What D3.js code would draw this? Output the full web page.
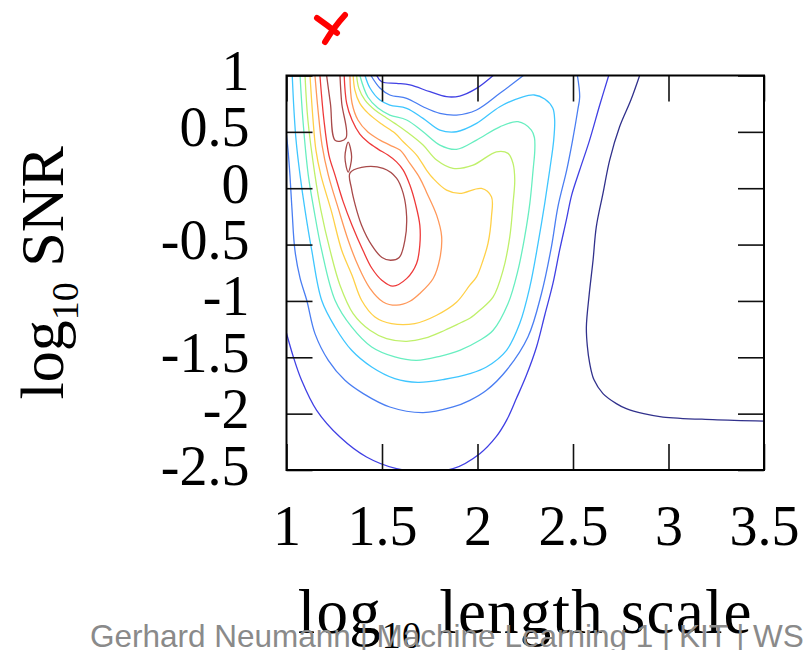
<!DOCTYPE html>
<html>
<head>
<meta charset="utf-8">
<script src="https://cdn.jsdelivr.net/npm/d3@7/dist/d3.min.js"></script>
<style>
  body { margin: 0; background: #fff; }
  svg { display: block; }
</style>
</head>
<body>
<svg id="chart" width="805" height="650"></svg>
<script>
// Axis ticks and their labels
const xTicks = [1, 1.5, 2, 2.5, 3, 3.5];
const xTickLabels = ["1", "1.5", "2", "2.5", "3", "3.5"];
const yTicks = [1, 0.5, 0, -0.5, -1, -1.5, -2, -2.5];
const yTickLabels = ["1", "0.5", "0", "-0.5", "-1", "-1.5", "-2", "-2.5"];

// Contour lines of the log marginal likelihood, lowest level first.
// Each point is [log10 length scale, log10 SNR].
const level0 = [[2.849,1],[2.803,0.782],[2.744,0.545],[2.692,0.25],[2.657,-0.046],[2.622,-0.343],[2.605,-0.639],[2.585,-0.94],[2.570,-1.231],[2.575,-1.40],[2.587,-1.55],[2.610,-1.70],[2.657,-1.822],[2.727,-1.911],[2.779,-1.956],[2.87,-2.0],[2.971,-2.030],[3.232,-2.053],[3.5,-2.066]];

const level1 = [[1,-1.287],[1.036,-1.497],[1.079,-1.704],[1.158,-1.971],[1.28,-2.208],[1.419,-2.385],[1.576,-2.488],[1.733,-2.51],[1.872,-2.488],[2.012,-2.355],[2.099,-2.202],[2.152,-2.06],[2.204,-1.864],[2.256,-1.66],[2.309,-1.409],[2.352,-1.127],[2.395,-0.845],[2.43,-0.55],[2.465,-0.283],[2.493,-0.061],[2.535,0.161],[2.587,0.427],[2.64,0.738],[2.687,1]];
const level1Top = [[1.472,1],[1.498,0.945],[1.576,0.931],[1.646,0.916],[1.751,0.856],[1.838,0.812],[1.907,0.818],[1.995,0.886],[2.082,1]];

const level2 = [[1,0.472],[1.008,0.338],[1.018,0.116],[1.029,-0.194],[1.044,-0.55],[1.071,-0.798],[1.106,-0.994],[1.149,-1.29],[1.219,-1.527],[1.306,-1.704],[1.402,-1.822],[1.541,-1.941],[1.715,-1.991],[1.872,-1.941],[1.96,-1.882],[2.047,-1.793],[2.152,-1.615],[2.264,-1.32],[2.335,-0.934],[2.387,-0.52],[2.421,-0.165],[2.467,0.161],[2.498,0.427],[2.525,0.694],[2.535,0.812],[2.523,1]];
const level2Top = [[1.442,1],[1.489,0.889],[1.541,0.827],[1.629,0.798],[1.715,0.723],[1.803,0.664],[1.89,0.649],[1.995,0.694],[2.117,0.842],[2.24,1]];

const level3 = [[1.03,1],[1.039,0.694],[1.05,0.427],[1.071,0.116],[1.097,-0.194],[1.132,-0.55],[1.184,-0.994],[1.254,-1.231],[1.341,-1.438],[1.446,-1.586],[1.567,-1.689],[1.688,-1.722],[1.829,-1.695],[1.96,-1.645],[2.047,-1.586],[2.152,-1.438],[2.221,-1.201],[2.274,-0.876],[2.317,-0.49],[2.352,-0.135],[2.378,0.161],[2.399,0.427],[2.404,0.605],[2.394,0.711],[2.352,0.791],[2.297,0.827],[2.234,0.809],[2.117,0.723],[1.995,0.575],[1.89,0.501],[1.803,0.516],[1.715,0.62],[1.629,0.709],[1.541,0.738],[1.489,0.782],[1.437,0.889],[1.411,1]];

const level4 = [[1.071,1],[1.086,0.605],[1.114,0.116],[1.144,-0.194],[1.184,-0.55],[1.254,-0.994],[1.341,-1.231],[1.446,-1.409],[1.567,-1.497],[1.681,-1.527],[1.803,-1.491],[1.907,-1.438],[2.012,-1.349],[2.082,-1.26],[2.16,-1.023],[2.212,-0.727],[2.247,-0.432],[2.274,-0.135],[2.291,0.161],[2.3,0.338],[2.298,0.45],[2.282,0.516],[2.212,0.59],[2.117,0.545],[1.995,0.427],[1.89,0.345],[1.803,0.383],[1.715,0.501],[1.629,0.605],[1.541,0.649],[1.479,0.711],[1.426,0.809],[1.384,1]];

const level5 = [[1.097,1],[1.112,0.605],[1.149,0.116],[1.18,-0.194],[1.228,-0.55],[1.28,-0.86],[1.349,-1.112],[1.437,-1.26],[1.524,-1.334],[1.629,-1.358],[1.724,-1.331],[1.829,-1.26],[1.907,-1.198],[1.96,-1.154],[2.012,-1.083],[2.082,-0.964],[2.134,-0.727],[2.169,-0.432],[2.186,-0.135],[2.195,0.072],[2.186,0.22],[2.16,0.309],[2.099,0.323],[1.977,0.205],[1.872,0.176],[1.786,0.25],[1.715,0.383],[1.629,0.501],[1.567,0.575],[1.515,0.634],[1.463,0.694],[1.411,0.782],[1.379,0.886],[1.367,1]];

const level6 = [[1.123,1],[1.139,0.605],[1.154,0.338],[1.18,0.116],[1.236,-0.21],[1.289,-0.55],[1.343,-0.772],[1.393,-0.994],[1.463,-1.142],[1.55,-1.201],[1.672,-1.201],[1.786,-1.127],[1.89,-1.012],[1.96,-0.86],[1.995,-0.787],[2.029,-0.639],[2.055,-0.49],[2.073,-0.254],[2.073,-0.076],[2.021,-0.002],[1.907,-0.046],[1.838,-0.017],[1.766,0.09],[1.733,0.161],[1.681,0.294],[1.611,0.412],[1.567,0.489],[1.498,0.569],[1.428,0.664],[1.384,0.753],[1.358,0.871],[1.349,1]];

const level7 = [[1.149,1],[1.165,0.694],[1.186,0.383],[1.219,0.116],[1.271,-0.179],[1.323,-0.461],[1.374,-0.684],[1.437,-0.888],[1.506,-1.009],[1.576,-1.038],[1.646,-1.003],[1.698,-0.934],[1.768,-0.801],[1.803,-0.623],[1.812,-0.425],[1.786,-0.239],[1.733,-0.035],[1.698,0.09],[1.646,0.22],[1.594,0.338],[1.541,0.383],[1.489,0.427],[1.426,0.498],[1.374,0.605],[1.343,0.756],[1.332,1]];

const level8 = [[1.175,1],[1.196,0.605],[1.222,0.294],[1.254,0.116],[1.297,-0.121],[1.343,-0.328],[1.4,-0.55],[1.447,-0.71],[1.499,-0.816],[1.557,-0.869],[1.63,-0.80],[1.681,-0.668],[1.698,-0.505],[1.698,-0.328],[1.677,-0.15],[1.646,0.028],[1.611,0.161],[1.576,0.234],[1.531,0.294],[1.479,0.347],[1.426,0.409],[1.384,0.48],[1.343,0.605],[1.315,0.753],[1.302,1]];

const level9Peak = [[1.332,0.134],[1.393,0.185],[1.506,0.176],[1.576,0.09],[1.611,-0.046],[1.629,-0.254],[1.620,-0.46],[1.590,-0.615],[1.545,-0.639],[1.500,-0.615],[1.446,-0.505],[1.393,-0.328],[1.360,-0.15],[1.340,0.0]];
const level9Ridge = [[1.210,1],[1.230,0.75],[1.256,0.423],[1.311,0.445],[1.289,0.756],[1.280,1]];
const level9Islet = [[1.323,0.409],[1.341,0.276],[1.323,0.143],[1.306,0.276]];

// Line colours per level (jet colour map, low to high)
const levelColors = ["#31318c", "#4040e4", "#4a7ef2", "#3fc6ff", "#68eec0", "#bff06a", "#ffd048", "#ff985a", "#ee3a3a", "#a84a4a"];

// Which pieces belong to which level, and whether they close on themselves
const contourPieces = [
  { level: 0, points: level0, closed: false },
  { level: 1, points: level1, closed: false },
  { level: 1, points: level1Top, closed: false },
  { level: 2, points: level2, closed: false },
  { level: 2, points: level2Top, closed: false },
  { level: 3, points: level3, closed: false },
  { level: 4, points: level4, closed: false },
  { level: 5, points: level5, closed: false },
  { level: 6, points: level6, closed: false },
  { level: 7, points: level7, closed: false },
  { level: 8, points: level8, closed: false },
  { level: 9, points: level9Peak, closed: true },
  { level: 9, points: level9Ridge, closed: false },
  { level: 9, points: level9Islet, closed: true }
];

const svg = d3.select("#chart");
svg.append("rect").attr("width", 805).attr("height", 650).attr("fill", "#fff");

const x = d3.scaleLinear().domain([1, 3.5]).range([286.5, 764]);
const y = d3.scaleLinear().domain([-2.5, 1]).range([470, 75.5]);

const plotW = x(3.5) - x(1);
const plotH = y(-2.5) - y(1);

svg.append("clipPath").attr("id", "plot-clip")
  .append("rect")
  .attr("x", x(1)).attr("y", y(1))
  .attr("width", plotW).attr("height", plotH);

const openLine = d3.line()
  .x(d => x(d[0])).y(d => y(d[1]))
  .curve(d3.curveCatmullRom.alpha(0.5));
const closedLine = d3.line()
  .x(d => x(d[0])).y(d => y(d[1]))
  .curve(d3.curveCatmullRomClosed.alpha(0.5));

svg.append("g")
  .attr("clip-path", "url(#plot-clip)")
  .selectAll("path")
  .data(contourPieces)
  .join("path")
  .attr("d", d => (d.closed ? closedLine : openLine)(d.points))
  .attr("fill", "none")
  .attr("stroke", d => levelColors[d.level])
  .attr("stroke-width", 1.3)
  .attr("stroke-linejoin", "round");

// Axes with inward ticks on all four sides
const tickLen = 26;
const serif = "'Liberation Serif', 'Times New Roman', serif";

const gBottom = svg.append("g")
  .attr("transform", `translate(0,${y(-2.5)})`)
  .call(d3.axisBottom(x).tickValues(xTicks)
    .tickFormat((d, i) => xTickLabels[i])
    .tickSize(-tickLen).tickPadding(35));
gBottom.attr("font-size", 56).attr("font-family", serif);

const gLeft = svg.append("g")
  .attr("transform", `translate(${x(1)},0)`)
  .call(d3.axisLeft(y).tickValues(yTicks)
    .tickFormat((d, i) => yTickLabels[i])
    .tickSize(-tickLen).tickPadding(37));
gLeft.attr("font-size", 56).attr("font-family", serif);
gLeft.selectAll("text").attr("dy", "0.25em");

const gTop = svg.append("g")
  .attr("transform", `translate(0,${y(1)})`)
  .call(d3.axisTop(x).tickValues(xTicks).tickFormat("").tickSize(-tickLen));

const gRight = svg.append("g")
  .attr("transform", `translate(${x(3.5)},0)`)
  .call(d3.axisRight(y).tickValues(yTicks).tickFormat("").tickSize(-tickLen));

[gBottom, gLeft, gTop, gRight].forEach(g => {
  g.select(".domain").remove();
  g.selectAll(".tick line").attr("stroke", "#111").attr("stroke-width", 1.6);
  g.selectAll("text").attr("fill", "#000");
});

// Plot frame
svg.append("rect")
  .attr("x", x(1)).attr("y", y(1))
  .attr("width", plotW).attr("height", plotH)
  .attr("fill", "none").attr("stroke", "#000").attr("stroke-width", 2);

// Axis titles
const xTitle = svg.append("text")
  .attr("x", (x(1) + x(3.5)) / 2).attr("y", 633)
  .attr("text-anchor", "middle")
  .attr("font-family", serif).attr("font-size", 63)
  .attr("letter-spacing", 1.2).attr("fill", "#000");
xTitle.append("tspan").text("log");
xTitle.append("tspan").attr("font-size", 38).attr("dy", 15).text("10");
xTitle.append("tspan").attr("dy", -15).text(" length scale");

const yTitle = svg.append("text")
  .attr("transform", `translate(63,${(y(1) + y(-2.5)) / 2}) rotate(-90)`)
  .attr("text-anchor", "middle")
  .attr("font-family", serif).attr("font-size", 62).attr("fill", "#000");
yTitle.append("tspan").text("log");
yTitle.append("tspan").attr("font-size", 38).attr("dy", 15).text("10");
yTitle.append("tspan").attr("dy", -15).text(" SNR");

// Hand-drawn red mark above the plot
const mark = svg.append("g")
  .attr("fill", "none").attr("stroke", "#ff0000")
  .attr("stroke-width", 6).attr("stroke-linecap", "round").attr("stroke-linejoin", "round");
mark.append("path").attr("d", "M317,18 Q327,25 337,33");
mark.append("path").attr("d", "M345,15 Q334,27 325,42");

// Slide footer
svg.append("text")
  .attr("x", 90).attr("y", 647)
  .attr("font-family", "'Liberation Sans', Arial, sans-serif")
  .attr("font-size", 31.5).attr("fill", "#8a8a8a")
  .text("Gerhard Neumann | Machine Learning 1 | KIT | WS");
</script>
</body>
</html>
